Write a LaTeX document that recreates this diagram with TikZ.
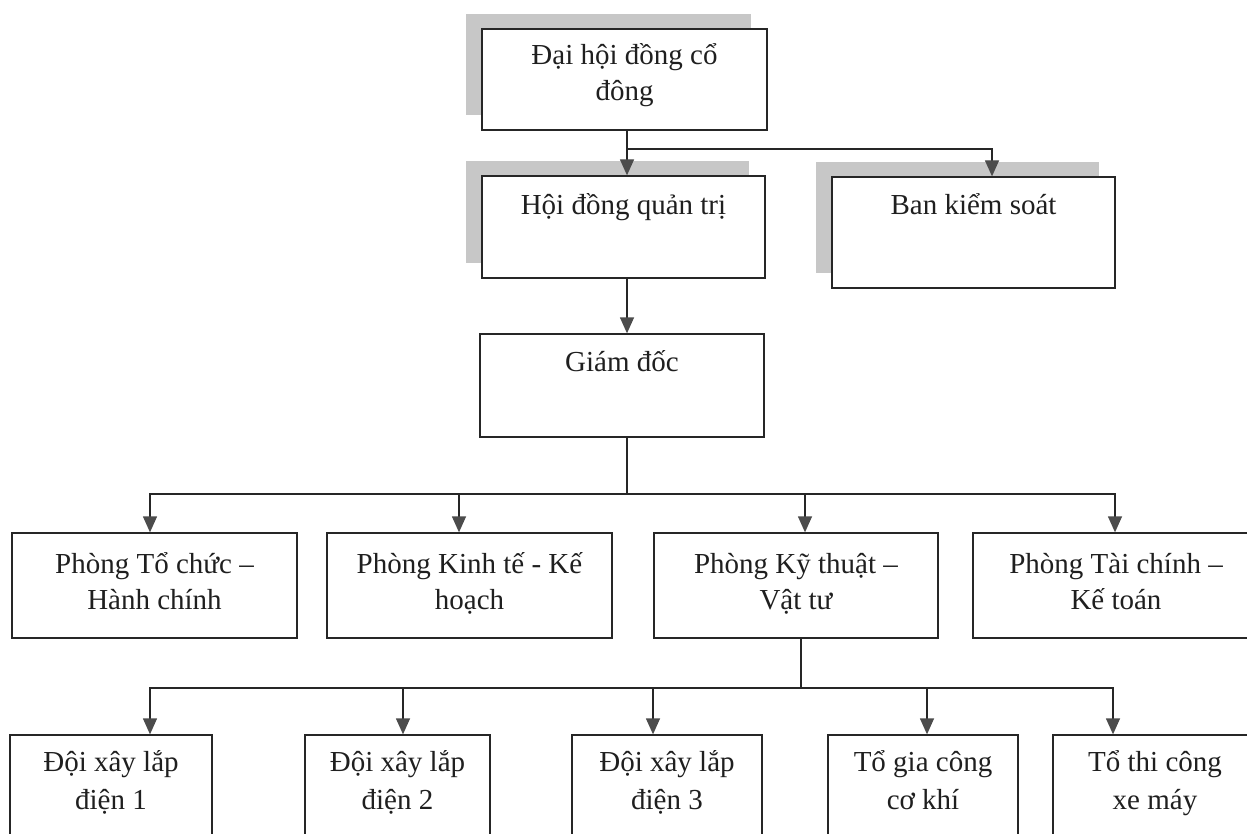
\documentclass[tikz,border=0pt]{standalone}
\usepackage{fontspec}
\setmainfont{Liberation Serif}
\usetikzlibrary{arrows.meta,shadows}
\newcommand{\tstr}{\rule{0pt}{30pt}}
\begin{document}
\begin{tikzpicture}[x=1pt,y=-1pt,
  box/.style={draw=black!85, line width=1.3pt, fill=white, inner sep=0pt, rectangle},
  shbox/.style={box, drop shadow={shadow xshift=-16pt, shadow yshift=15pt, fill=black!22, opacity=1}},
  lbl/.style={inner sep=0pt, align=center, anchor=north, text=black!88,
    font=\fontsize{29}{36}\selectfont},
  line/.style={draw=black!85, line width=1.3pt},
  arr/.style={line, -{Triangle[length=16pt,width=14pt,color=black!70]}}
]
\useasboundingbox (0,0) rectangle (1247,834);
\clip (0,0) rectangle (1247,834);

% level 1-2
\node[shbox, minimum width=285pt, minimum height=101pt] (A) at (624.5,79.5) {};
\node[shbox, minimum width=283pt, minimum height=102pt] (B) at (623.5,227) {};
\node[shbox, minimum width=283pt, minimum height=111pt] (C) at (973.5,232.5) {};
\node[box, minimum width=284pt, minimum height=103pt] (D) at (622,385.5) {};

\node[lbl] (At) at ([yshift=-6pt]A.north) {\tstr Đại hội đồng cổ\\đông};
\node[lbl] (Bt) at ([yshift=-9pt]B.north) {\tstr Hội đồng quản trị};
\node[lbl] (Ct) at ([yshift=-8pt]C.north) {\tstr Ban kiểm soát};
\node[lbl] (Dt) at ([yshift=-8pt]D.north) {\tstr Giám đốc};

% level 3
\node[box, minimum width=285pt, minimum height=105pt] (P1) at (154.5,585.5) {};
\node[box, minimum width=285pt, minimum height=105pt] (P2) at (469.5,585.5) {};
\node[box, minimum width=284pt, minimum height=105pt] (P3) at (796,585.5) {};
\node[box, minimum width=286pt, minimum height=105pt] (P4) at (1116,585.5) {};

\node[lbl] (P1t) at ([yshift=-11pt]P1.north) {\tstr Phòng Tổ chức –\\Hành chính};
\node[lbl] (P2t) at ([yshift=-11pt]P2.north) {\tstr Phòng Kinh tế - Kế\\hoạch};
\node[lbl] (P3t) at ([yshift=-11pt]P3.north) {\tstr Phòng Kỹ thuật –\\Vật tư};
\node[lbl] (P4t) at ([yshift=-11pt]P4.north) {\tstr Phòng Tài chính –\\Kế toán};

% level 4
\node[box, minimum width=202pt, minimum height=120pt] (T1) at (111,795) {};
\node[box, minimum width=185pt, minimum height=120pt] (T2) at (397.5,795) {};
\node[box, minimum width=190pt, minimum height=120pt] (T3) at (667,795) {};
\node[box, minimum width=190pt, minimum height=120pt] (T4) at (923,795) {};
\node[box, minimum width=204pt, minimum height=120pt] (T5) at (1155,795) {};

\node[lbl, font=\fontsize{29}{38}\selectfont] (T1t) at ([yshift=-7pt]T1.north) {\tstr Đội xây lắp\\điện 1};
\node[lbl, font=\fontsize{29}{38}\selectfont] (T2t) at ([yshift=-7pt]T2.north) {\tstr Đội xây lắp\\điện 2};
\node[lbl, font=\fontsize{29}{38}\selectfont] (T3t) at ([yshift=-7pt]T3.north) {\tstr Đội xây lắp\\điện 3};
\node[lbl, font=\fontsize{29}{38}\selectfont] (T4t) at ([yshift=-7pt]T4.north) {\tstr Tổ gia công\\cơ khí};
\node[lbl, font=\fontsize{29}{38}\selectfont] (T5t) at ([yshift=-7pt]T5.north) {\tstr Tổ thi công\\xe máy};

% connectors
\coordinate (busA) at (0,149);
\coordinate (busD) at (0,494);
\coordinate (busP) at (0,688);
\coordinate (Aout) at ([xshift=2.5pt]A.south);
\coordinate (Cin) at ([xshift=18.5pt]C.north);
\coordinate (Dout) at ([xshift=5pt]D.south);
\coordinate (Pout) at ([xshift=5pt]P3.south);

\draw[arr] (Aout) -- (Aout |- B.north);
\draw[arr] (Aout |- busA) -| (Cin);
\draw[arr] ([xshift=3.5pt]B.south) -- ([xshift=3.5pt]B.south |- D.north);

\draw[line] (Dout) -- (Dout |- busD);
\draw[arr] (Dout |- busD) -| ([xshift=-4.5pt]P1.north);
\draw[arr] (Dout |- busD) -| ([xshift=-10.5pt]P2.north);
\draw[arr] (Dout |- busD) -| ([xshift=9pt]P3.north);
\draw[arr] (Dout |- busD) -| ([xshift=-1pt]P4.north);

\draw[line] (Pout) -- (Pout |- busP);
\draw[arr] (Pout |- busP) -| ([xshift=39pt]T1.north);
\draw[arr] (Pout |- busP) -| ([xshift=5.5pt]T2.north);
\draw[arr] (Pout |- busP) -| ([xshift=-14pt]T3.north);
\draw[arr] (Pout |- busP) -| ([xshift=4pt]T4.north);
\draw[arr] (Pout |- busP) -| ([xshift=-42pt]T5.north);
\end{tikzpicture}
\end{document}
